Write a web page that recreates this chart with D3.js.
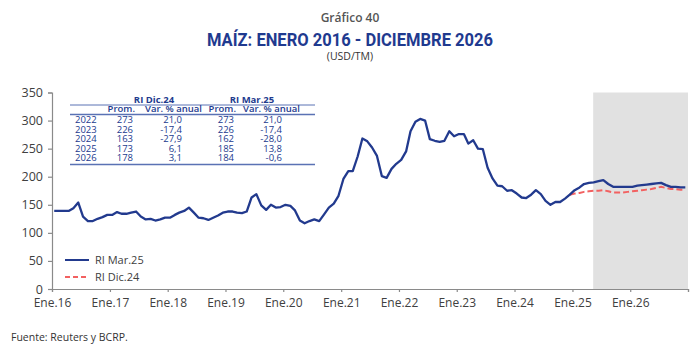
<!DOCTYPE html>
<html>
<head>
<meta charset="utf-8">
<script src="https://cdn.jsdelivr.net/npm/d3@7"></script>
<style>
  body { margin: 0; background: #fff; }
  svg { display: block; font-family: "Open Sans", sans-serif; }
</style>
</head>
<body>
<svg id="chart"></svg>
<script>
// Monthly corn price, USD/TM, Jan 2016 - Dec 2026 (RI Mar.25)
const priceMar25 = [
  139, 139, 139, 139, 144, 154, 129, 121, 121, 125, 128, 132,   // 2016
  132, 137, 134, 134, 136, 138, 129, 124, 125, 122, 124, 127,   // 2017
  127, 132, 136, 139, 145, 136, 127, 126, 123, 127, 131, 136,   // 2018
  138, 138, 136, 135, 138, 163, 169, 149, 141, 150, 145, 146,   // 2019
  150, 148, 140, 122, 117, 121, 124, 121, 133, 145, 152, 166,   // 2020
  196, 210, 210, 236, 268, 263, 252, 237, 201, 198, 214, 223,   // 2021
  230, 245, 281, 298, 303, 300, 267, 264, 262, 264, 281, 272,   // 2022
  276, 276, 259, 265, 250, 249, 216, 197, 184, 183, 175, 176,   // 2023
  170, 163, 162, 168, 176, 169, 157, 150, 155, 155, 161, 168,   // 2024
  176, 181, 187, 189, 190, 192, 194, 187, 182, 182, 182, 182,   // 2025
  182, 184, 185, 186, 187, 188, 189, 185, 182, 182, 181, 181    // 2026
];

// RI Dic.24 forecast, Dec 2024 - Dec 2026
const priceDic24 = [
  168,                                                          // Dec 2024
  170, 171, 173, 174, 175, 175, 176, 174, 172, 172, 172, 173,   // 2025
  174, 175, 176, 177, 178, 180, 182, 180, 178, 178, 177, 177    // 2026
];

const startMonth = new Date(2016, 0, 1);
const dic24Start = new Date(2024, 11, 1);
const forecastStart = new Date(2025, 4, 12);
const endMonth = new Date(2027, 0, 1);

const xTickYears = [2016, 2017, 2018, 2019, 2020, 2021, 2022, 2023, 2024, 2025, 2026, 2027];
const xTickLabels = ["Ene.16", "Ene.17", "Ene.18", "Ene.19", "Ene.20", "Ene.21", "Ene.22", "Ene.23", "Ene.24", "Ene.25", "Ene.26", ""];
const yTicks = [0, 50, 100, 150, 200, 250, 300, 350];

// Summary table
const tableYears = ["2022", "2023", "2024", "2025", "2026"];
const promDic24 = ["273", "226", "163", "173", "178"];
const varDic24 = ["21,0", "-17,4", "-27,9", "6,1", "3,1"];
const promMar25 = ["273", "226", "162", "185", "184"];
const varMar25 = ["21,0", "-17,4", "-28,0", "13,8", "-0,6"];

const seriesNames = ["RI Mar.25", "RI Dic.24"];

// colours
const navy = "#223a8e";
const red = "#f26161";
const grayText = "#404040";
const axisGray = "#8a8a8a";

const width = 700, height = 352;
const margin = { top: 92.5, right: 12, bottom: 63, left: 52 };

const svg = d3.select("#chart")
  .attr("width", width)
  .attr("height", height);

// Scales
const xScale = d3.scaleTime()
  .domain([startMonth, endMonth])
  .range([margin.left, width - margin.right]);

const yScale = d3.scaleLinear()
  .domain([0, 350])
  .range([height - margin.bottom, margin.top]);

// mid-month dates for each data point
const datesMar25 = priceMar25.map((v, i) => new Date(2016, i, 15));
const datesDic24 = priceDic24.map((v, i) => new Date(dic24Start.getFullYear(), dic24Start.getMonth() + i, 15));

// Forecast shading
svg.append("rect")
  .attr("x", xScale(forecastStart))
  .attr("y", yScale(350))
  .attr("width", xScale(endMonth) - xScale(forecastStart))
  .attr("height", yScale(0) - yScale(350))
  .attr("fill", "#e1e1e1");

// Titles
svg.append("text")
  .attr("x", width / 2)
  .attr("y", 22)
  .attr("text-anchor", "middle")
  .style("font-size", "12px")
  .style("font-weight", "600")
  .style("fill", "#555")
  .text("Gráfico 40");

svg.append("text")
  .attr("x", width / 2)
  .attr("y", 46)
  .attr("text-anchor", "middle")
  .attr("textLength", 286)
  .attr("lengthAdjust", "spacingAndGlyphs")
  .style("font-family", "Roboto, sans-serif")
  .style("font-size", "18px")
  .style("font-weight", "bold")
  .style("fill", "#1f3a8f")
  .text("MAÍZ: ENERO 2016 - DICIEMBRE 2026");

svg.append("text")
  .attr("x", width / 2)
  .attr("y", 60)
  .attr("text-anchor", "middle")
  .style("font-size", "10.5px")
  .style("fill", "#333")
  .text("(USD/TM)");

// Y axis
const yAxis = svg.append("g")
  .attr("transform", `translate(${margin.left},0)`)
  .call(d3.axisLeft(yScale).tickValues(yTicks).tickSize(4).tickPadding(5));

// X axis
const xTickDates = xTickYears.map(y => new Date(y, 0, 1));
const xAxis = svg.append("g")
  .attr("transform", `translate(0,${yScale(0)})`)
  .call(d3.axisBottom(xScale)
    .tickValues(xTickDates)
    .tickSize(3)
    .tickPadding(6)
    .tickFormat((d, i) => xTickLabels[i]));

[yAxis, xAxis].forEach(ax => {
  ax.select(".domain").attr("stroke", axisGray).attr("stroke-width", 1.2);
  ax.selectAll(".tick line").attr("stroke", axisGray).attr("stroke-width", 1.2);
  ax.selectAll(".tick text")
    .style("font-family", "Open Sans, sans-serif")
    .style("font-size", "12.5px")
    .style("fill", grayText);
});
xAxis.selectAll(".tick text").style("font-size", "12px");

// Lines
const line = d3.line()
  .x(d => xScale(d[0]))
  .y(d => yScale(d[1]));

svg.append("path")
  .datum(d3.zip(datesDic24, priceDic24))
  .attr("fill", "none")
  .attr("stroke", red)
  .attr("stroke-width", 2)
  .attr("stroke-dasharray", "6,3")
  .attr("d", line);

svg.append("path")
  .datum(d3.zip(datesMar25, priceMar25))
  .attr("fill", "none")
  .attr("stroke", navy)
  .attr("stroke-width", 2.3)
  .attr("stroke-linejoin", "round")
  .attr("d", line);

// Legend
const legend = svg.append("g").attr("transform", "translate(65,260)");
seriesNames.forEach((name, i) => {
  const g = legend.append("g").attr("transform", `translate(0,${i * 17})`);
  g.append("line")
    .attr("x1", 0).attr("x2", 24)
    .attr("stroke", i === 0 ? navy : red)
    .attr("stroke-width", 2)
    .attr("stroke-dasharray", i === 0 ? null : "5,3");
  g.append("text")
    .attr("x", 30)
    .attr("dy", "0.35em")
    .style("font-size", "11px")
    .style("fill", grayText)
    .text(name);
});

// Table
const table = svg.append("g")
  .style("font-size", "9.5px")
  .style("fill", navy);
const ruleColor = "#5a72b4";
const tableX1 = 70, tableX2 = 315;

table.append("text").attr("x", 154).attr("y", 102.5).attr("text-anchor", "middle")
  .style("font-weight", "bold").text("RI Dic.24");
table.append("text").attr("x", 252).attr("y", 102.5).attr("text-anchor", "middle")
  .style("font-weight", "bold").text("RI Mar.25");

[[105, 1], [114.5, 1.5], [164.5, 1.5]].forEach(([y, w]) => {
  table.append("line")
    .attr("x1", tableX1).attr("x2", tableX2)
    .attr("y1", y).attr("y2", y)
    .attr("stroke", ruleColor).attr("stroke-width", w);
});

const headerCols = [
  { x: 135, label: "Prom." },
  { x: 202, label: "Var. % anual" },
  { x: 236, label: "Prom." },
  { x: 300, label: "Var. % anual" }
];
headerCols.forEach(c => {
  table.append("text").attr("x", c.x).attr("y", 112)
    .attr("text-anchor", "end")
    .style("font-weight", "600")
    .text(c.label);
});

tableYears.forEach((yr, i) => {
  const y = 123 + i * 9.6;
  table.append("text").attr("x", 75).attr("y", y).text(yr);
  table.append("text").attr("x", 133).attr("y", y).attr("text-anchor", "end").text(promDic24[i]);
  table.append("text").attr("x", 182).attr("y", y).attr("text-anchor", "end").text(varDic24[i]);
  table.append("text").attr("x", 234).attr("y", y).attr("text-anchor", "end").text(promMar25[i]);
  table.append("text").attr("x", 282).attr("y", y).attr("text-anchor", "end").text(varMar25[i]);
});

// Source
svg.append("text")
  .attr("x", 11)
  .attr("y", 341)
  .style("font-size", "10.5px")
  .style("fill", "#333")
  .text("Fuente: Reuters y BCRP.");
</script>
</body>
</html>
